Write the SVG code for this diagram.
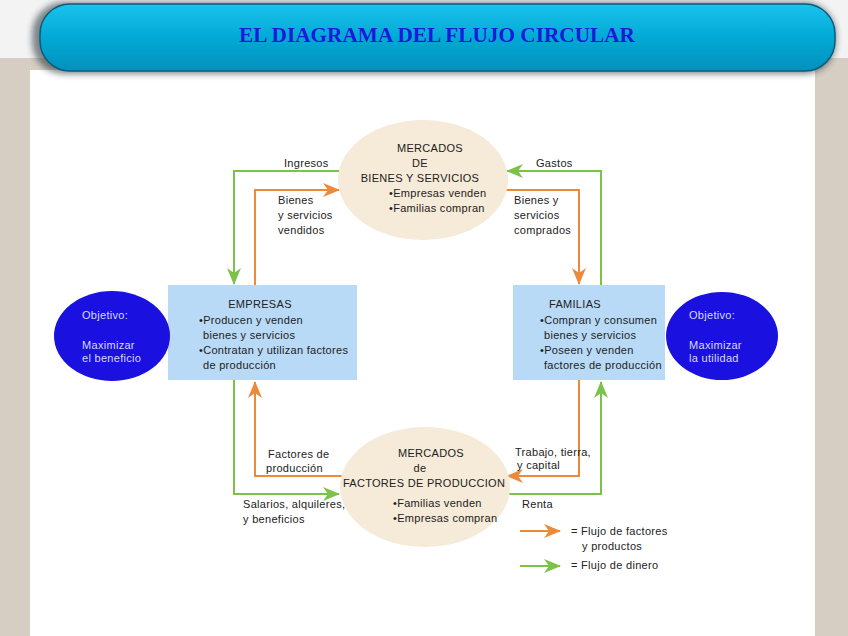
<svg xmlns="http://www.w3.org/2000/svg" width="848" height="636" viewBox="0 0 848 636">
<defs>
<linearGradient id="bar" x1="0" y1="0" x2="0" y2="1">
<stop offset="0" stop-color="#19c3ec"/>
<stop offset="0.5" stop-color="#03a9d6"/>
<stop offset="1" stop-color="#0391bb"/>
</linearGradient>
<filter id="sh" x="-5%" y="-20%" width="110%" height="150%">
<feGaussianBlur stdDeviation="3"/>
</filter>
<marker id="ao" markerUnits="userSpaceOnUse" markerWidth="18" markerHeight="14" viewBox="0 0 18 14" refX="16" refY="7" orient="auto">
<path d="M0,0 L17,7 L0,14 L5,7 Z" fill="#ec8a3c"/>
</marker>
<marker id="ag" markerUnits="userSpaceOnUse" markerWidth="18" markerHeight="14" viewBox="0 0 18 14" refX="16" refY="7" orient="auto">
<path d="M0,0 L17,7 L0,14 L5,7 Z" fill="#7cc24a"/>
</marker>
<style>
text{font-family:"Liberation Sans",Arial,sans-serif;font-size:11px;fill:#222;letter-spacing:0.3px;}
.c{text-anchor:middle;}
.w{fill:#d8d8ff;}
.o{fill:none;stroke:#ec8a3c;stroke-width:2;}
.g{fill:none;stroke:#7cc24a;stroke-width:2;}
.mk{fill:#f6ead8;}
.box{fill:#b8daf6;}
.obj{fill:#1a10e0;}
</style>
</defs>
<rect x="0" y="0" width="848" height="636" fill="#f3f3f3"/>
<rect x="0" y="58" width="848" height="578" fill="#d6cec3"/>
<rect x="30" y="70" width="785" height="566" fill="#ffffff"/>
<rect x="32" y="2" width="804" height="72" rx="32" fill="#1b2a33" opacity="0.55" filter="url(#sh)"/>
<rect x="40" y="4" width="795" height="67" rx="30" fill="url(#bar)" stroke="#0a5c78" stroke-width="1.5"/>
<text x="437" y="42" class="c" style="font-family:'Liberation Serif','Times New Roman',serif;font-size:21px;font-weight:bold;fill:#1a1ad8;letter-spacing:0;" textLength="396" lengthAdjust="spacingAndGlyphs">EL DIAGRAMA DEL FLUJO CIRCULAR</text>

<g id="connectors">
<polyline class="g" points="342,171 234,171 234,284" marker-end="url(#ag)"/>
<polyline class="o" points="255,285 255,190 339,190" marker-end="url(#ao)"/>
<polyline class="g" points="601,285 601,171 507,171" marker-end="url(#ag)"/>
<polyline class="o" points="506,190 579,190 579,284" marker-end="url(#ao)"/>
<polyline class="o" points="342,476 255,476 255,382" marker-end="url(#ao)"/>
<polyline class="g" points="234,380 234,494 339,494" marker-end="url(#ag)"/>
<polyline class="o" points="579,380 579,476 507,476" marker-end="url(#ao)"/>
<polyline class="g" points="506,494 601,494 601,382" marker-end="url(#ag)"/>
<text x="284" y="167">Ingresos</text>
<text x="278" y="204">Bienes</text>
<text x="278" y="219">y servicios</text>
<text x="278" y="234">vendidos</text>
<text x="536" y="167">Gastos</text>
<text x="514" y="204">Bienes y</text>
<text x="514" y="219">servicios</text>
<text x="514" y="234">comprados</text>
<text x="268" y="458">Factores de</text>
<text x="266" y="472">producción</text>
<text x="243" y="508">Salarios, alquileres,</text>
<text x="243" y="523">y beneficios</text>
<text x="515" y="456">Trabajo, tierra,</text>
<text x="517" y="469">y capital</text>
<text x="522" y="508">Renta</text>
</g>

<g id="mercado-bienes">
<ellipse class="mk" cx="423" cy="180" rx="85" ry="60"/>
<text x="430" y="152" class="c">MERCADOS</text>
<text x="420" y="167" class="c">DE</text>
<text x="420" y="182" class="c">BIENES Y SERVICIOS</text>
<text x="389" y="197">•Empresas venden</text>
<text x="389" y="212">•Familias compran</text>
</g>

<g id="mercado-factores">
<ellipse class="mk" cx="425" cy="487" rx="85" ry="60"/>
<text x="431" y="457" class="c">MERCADOS</text>
<text x="420" y="472" class="c">de</text>
<text x="424" y="487" class="c">FACTORES DE PRODUCCION</text>
<text x="393" y="507">•Familias venden</text>
<text x="393" y="522">•Empresas compran</text>
</g>

<g id="empresas">
<rect class="box" x="168" y="285" width="189" height="95"/>
<text x="260" y="308" class="c">EMPRESAS</text>
<text x="199" y="324">•Producen y venden</text>
<text x="203" y="339">bienes y servicios</text>
<text x="199" y="354">•Contratan y utilizan factores</text>
<text x="203" y="369">de producción</text>
</g>

<g id="familias">
<rect class="box" x="513" y="285" width="152" height="95"/>
<text x="549" y="308">FAMILIAS</text>
<text x="540" y="324">•Compran y consumen</text>
<text x="544" y="339">bienes y servicios</text>
<text x="540" y="354">•Poseen y venden</text>
<text x="544" y="369">factores de producción</text>
</g>

<g id="objetivo-empresas">
<ellipse class="obj" cx="112" cy="336" rx="58" ry="45"/>
<text x="82" y="319" class="w">Objetivo:</text>
<text x="82" y="349" class="w">Maximizar</text>
<text x="82" y="362" class="w">el beneficio</text>
</g>

<g id="objetivo-familias">
<ellipse class="obj" cx="722" cy="336" rx="56" ry="44"/>
<text x="689" y="319" class="w">Objetivo:</text>
<text x="689" y="349" class="w">Maximizar</text>
<text x="689" y="362" class="w">la utilidad</text>
</g>

<g id="leyenda">
<line class="o" x1="520" y1="531" x2="560" y2="531" marker-end="url(#ao)"/>
<line class="g" x1="520" y1="566" x2="560" y2="566" marker-end="url(#ag)"/>
<text x="571" y="535">= Flujo de factores</text>
<text x="582" y="550">y productos</text>
<text x="571" y="569">= Flujo de dinero</text>
</g>
</svg>
